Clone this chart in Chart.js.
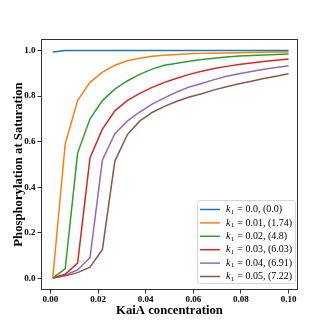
<!DOCTYPE html>
<html>
<head>
<meta charset="utf-8">
<script src="https://cdn.jsdelivr.net/npm/chart.js@4.4.1/dist/chart.umd.min.js"></script>
<style>
  html, body { margin:0; padding:0; background:#fff; }
  #wrap { width:332px; height:332px; }
</style>
</head>
<body>
<div id="wrap"><canvas id="chart" width="332" height="332"></canvas></div>
<script>
// KaiA concentration (x) and phosphorylation at saturation for each k1
const kaiA = [0.001, 0.00621, 0.01142, 0.01663, 0.02184, 0.02705, 0.03226, 0.03747, 0.04268, 0.04789,
              0.05311, 0.05832, 0.06353, 0.06874, 0.07395, 0.07916, 0.08437, 0.08958, 0.09479, 0.1];
const k1Labels = ['0.0', '0.01', '0.02', '0.03', '0.04', '0.05'];
const periodLabels = ['0.0', '1.74', '4.8', '6.03', '6.91', '7.22'];

const phosK000 = [0.993, 1.0, 1.0, 1.0, 1.0, 1.0, 1.0, 1.0, 1.0, 1.0, 1.0, 1.0, 1.0, 1.0, 1.0, 1.0, 1.0, 1.0, 1.0, 1.0];
const phosK001 = [0.003, 0.59, 0.78, 0.86, 0.905, 0.935, 0.955, 0.966, 0.974, 0.979, 0.982, 0.985, 0.987, 0.988, 0.989, 0.990, 0.991, 0.992, 0.993, 0.993];
const phosK002 = [0.003, 0.043, 0.55, 0.70, 0.78, 0.83, 0.866, 0.895, 0.918, 0.935, 0.944, 0.952, 0.96, 0.966, 0.971, 0.975, 0.978, 0.98, 0.982, 0.984];
const phosK003 = [0.003, 0.019, 0.068, 0.53, 0.655, 0.735, 0.78, 0.812, 0.838, 0.86, 0.878, 0.895, 0.909, 0.921, 0.93, 0.938, 0.945, 0.951, 0.957, 0.962];
const phosK004 = [0.003, 0.015, 0.038, 0.092, 0.52, 0.635, 0.69, 0.73, 0.765, 0.792, 0.818, 0.84, 0.855, 0.872, 0.887, 0.898, 0.908, 0.917, 0.925, 0.933];
const phosK005 = [0.003, 0.012, 0.026, 0.05, 0.128, 0.515, 0.63, 0.69, 0.728, 0.755, 0.777, 0.796, 0.81, 0.827, 0.841, 0.854, 0.865, 0.877, 0.887, 0.898];

const xTicks = [0, 0.02, 0.04, 0.06, 0.08, 0.10];
const yTicks = [0, 0.2, 0.4, 0.6, 0.8, 1.0];

const series = [phosK000, phosK001, phosK002, phosK003, phosK004, phosK005];
const colors = ['#1f77b4', '#ff7f0e', '#2ca02c', '#d62728', '#9467bd', '#8c564b'];

const SERIF = '"Liberation Serif", "DejaVu Serif", serif';
const AXIS = '#333';

// top/right spines, like matplotlib's box
const frame = {
  id: 'frame',
  afterDatasetsDraw(chart){
    const {ctx, chartArea:a} = chart;
    ctx.save();
    ctx.strokeStyle = AXIS;
    ctx.lineWidth = 1;
    ctx.strokeRect(a.left + 0.5, a.top + 0.5, a.right - a.left - 1, a.bottom - a.top - 1);
    ctx.restore();
  }
};

// legend box in the lower right, "k_1 = ..., (...)"
const legendBox = {
  id: 'legendBox',
  afterDraw(chart){
    const {ctx, chartArea:a} = chart;
    const w = 98, h = 83;
    const x0 = a.right - 3 - w, y0 = a.bottom - 7 - h;
    ctx.save();
    ctx.fillStyle = 'rgba(255,255,255,0.85)';
    ctx.strokeStyle = '#d6d6d6';
    ctx.lineWidth = 1;
    ctx.beginPath();
    ctx.roundRect(x0 + 0.5, y0 + 0.5, w, h, 2);
    ctx.fill();
    ctx.stroke();
    chart.data.datasets.forEach((ds, i) => {
      const y = y0 + 9.5 + i * 13.4;
      ctx.strokeStyle = ds.borderColor;
      ctx.lineWidth = 1.5;
      ctx.beginPath();
      ctx.moveTo(x0 + 3, y);
      ctx.lineTo(x0 + 23, y);
      ctx.stroke();
      ctx.fillStyle = '#000';
      ctx.textBaseline = 'middle';
      let x = x0 + 29;
      ctx.font = 'italic 10px ' + SERIF;
      ctx.fillText('k', x, y);
      x += ctx.measureText('k').width;
      ctx.font = '7px ' + SERIF;
      ctx.fillText('1', x + 0.3, y + 2.5);
      x += ctx.measureText('1').width + 0.8;
      ctx.font = '10px ' + SERIF;
      ctx.fillText(' = ' + k1Labels[i] + ', (' + periodLabels[i] + ')', x, y);
    });
    ctx.restore();
  }
};

new Chart(document.getElementById('chart'), {
  type: 'line',
  data: {
    datasets: series.map((s, i) => ({
      label: 'k1 = ' + k1Labels[i] + ', (' + periodLabels[i] + ')',
      data: kaiA.map((x, j) => ({x, y: s[j]})),
      borderColor: colors[i],
      borderWidth: 1.5,
      pointRadius: 0,
      tension: 0,
      fill: false
    }))
  },
  options: {
    responsive: false,
    animation: false,
    devicePixelRatio: 1,
    layout: { padding: { left: 0, right: 34, top: 39, bottom: 0 } },
    plugins: { legend: { display: false }, tooltip: { enabled: false } },
    scales: {
      x: {
        type: 'linear',
        min: -0.00395, max: 0.10395,
        afterBuildTicks: s => { s.ticks = xTicks.map(v => ({value: v})); },
        afterFit: s => { s.height = 42; },
        grid: { drawOnChartArea: false, drawTicks: true, tickLength: 3.5, color: AXIS },
        border: { display: false },
        ticks: { color: '#000', padding: 1, maxRotation: 0,
                 font: { family: SERIF, size: 9, weight: 'bold' },
                 callback: v => v.toFixed(2) },
        title: { display: true, text: 'KaiA concentration', color: '#000',
                 font: { family: SERIF, size: 12.7, weight: 'bold' },
                 padding: { top: 0, bottom: 14 } }
      },
      y: {
        min: -0.05, max: 1.05,
        afterBuildTicks: s => { s.ticks = yTicks.map(v => ({value: v})); },
        afterFit: s => { s.width = 41; },
        grid: { drawOnChartArea: false, drawTicks: true, tickLength: 3.5, color: AXIS },
        border: { display: false },
        ticks: { color: '#000', padding: 2,
                 font: { family: SERIF, size: 9, weight: 'bold' },
                 callback: v => v.toFixed(1) },
        title: { display: true, text: 'Phosphorylation at Saturation', color: '#000',
                 font: { family: SERIF, size: 12.7, weight: 'bold' },
                 padding: { top: 11, bottom: 0 } }
      }
    }
  },
  plugins: [frame, legendBox]
});
</script>
</body>
</html>
